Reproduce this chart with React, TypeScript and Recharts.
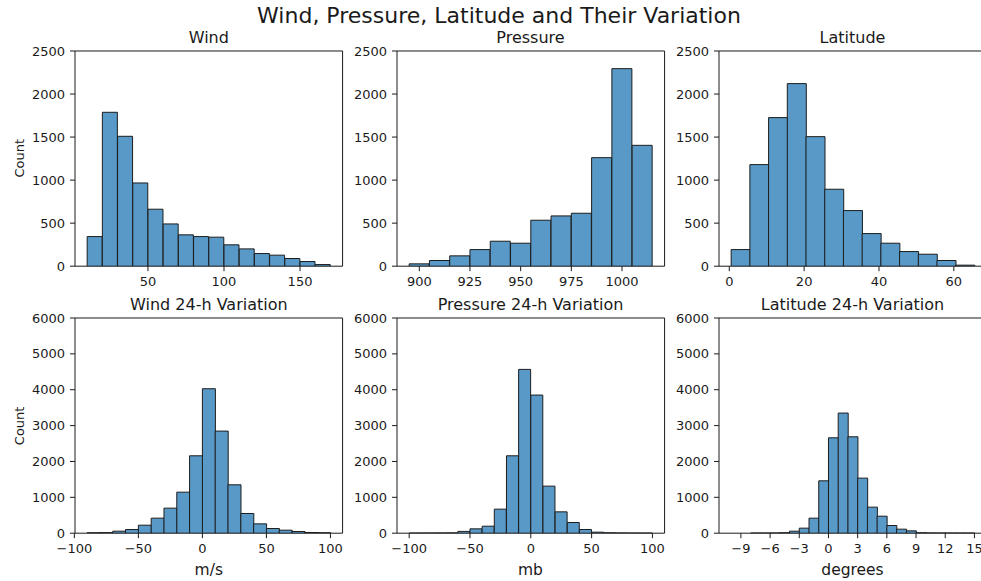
import React from "react";
import { BarChart, Bar, XAxis, YAxis, ReferenceArea } from "recharts";

// Counts per bin, bins are equal-width starting at the given edge
const windStart = 10;
const windStep = 10;
const windCounts = [344, 1788, 1509, 967, 662, 491, 364, 344, 337, 248, 201, 147, 128, 89, 54, 19];

const pressureStart = 895;
const pressureStep = 10;
const pressureCounts = [27, 66, 120, 193, 290, 267, 534, 584, 615, 1261, 2295, 1404];

const latitudeStart = 0.5;
const latitudeStep = 5;
const latitudeCounts = [193, 1180, 1726, 2121, 1505, 894, 646, 379, 267, 170, 139, 66, 12];

const windVarStart = -90;
const windVarStep = 10;
const windVarCounts = [12, 15, 56, 102, 223, 419, 698, 1144, 2158, 4028, 2847, 1349, 549, 260, 130, 84, 47, 19, 12];

const pressureVarStart = -100;
const pressureVarStep = 10;
const pressureVarCounts = [1, 3, 5, 8, 50, 121, 195, 670, 2158, 4567, 3851, 1312, 595, 298, 102, 28, 10, 5, 2, 1];

const latitudeVarStart = -10;
const latitudeVarStep = 1;
const latitudeVarCounts = [0, 0, 1, 2, 4, 12, 56, 140, 419, 1460, 2660, 3349, 2688, 1535, 726, 474, 214, 112, 65, 12, 5, 3, 2, 1, 1];

const windTicks = [50, 100, 150];
const pressureTicks = [900, 925, 950, 975, 1000];
const latitudeTicks = [0, 20, 40, 60];
const varTicks = [-100, -50, 0, 50, 100];
const latitudeVarTicks = [-9, -6, -3, 0, 3, 6, 9, 12, 15];
const countTicksTop = [0, 500, 1000, 1500, 2000, 2500];
const countTicksBottom = [0, 1000, 2000, 3000, 4000, 5000, 6000];

const FILL = "#5899c7";
const EDGE = "#1c1c1c";
const INK = "#1a1a1a";

const COL_LEFT = [75, 396.7, 718.7];
const ROW_TOP = [50.7, 318.3];
const PLOT_W = 267.6;
const PLOT_H = 215.2;

const toBins = (start: number, step: number, counts: number[]) =>
  counts.map((count, i) => ({ x: start + step * (i + 0.5), count }));

const fmt = (v: number) => String(v).replace("-", "\u2212");

interface Panel {
  title: string;
  col: number;
  row: number;
  data: { x: number; count: number }[];
  xDomain: [number, number];
  xTicks: number[];
  yMax: number;
  yTicks: number[];
  xLabel?: string;
}

const panels: Panel[] = [
  { title: "Wind", col: 0, row: 0, data: toBins(windStart, windStep, windCounts), xDomain: [2, 178], xTicks: windTicks, yMax: 2500, yTicks: countTicksTop },
  { title: "Pressure", col: 1, row: 0, data: toBins(pressureStart, pressureStep, pressureCounts), xDomain: [889, 1021], xTicks: pressureTicks, yMax: 2500, yTicks: countTicksTop },
  { title: "Latitude", col: 2, row: 0, data: toBins(latitudeStart, latitudeStep, latitudeCounts), xDomain: [-2.75, 68.75], xTicks: latitudeTicks, yMax: 2500, yTicks: countTicksTop },
  { title: "Wind 24-h Variation", col: 0, row: 1, data: toBins(windVarStart, windVarStep, windVarCounts), xDomain: [-99.5, 109.5], xTicks: varTicks, yMax: 6000, yTicks: countTicksBottom, xLabel: "m/s" },
  { title: "Pressure 24-h Variation", col: 1, row: 1, data: toBins(pressureVarStart, pressureVarStep, pressureVarCounts), xDomain: [-110, 110], xTicks: varTicks, yMax: 6000, yTicks: countTicksBottom, xLabel: "mb" },
  { title: "Latitude 24-h Variation", col: 2, row: 1, data: toBins(latitudeVarStart, latitudeVarStep, latitudeVarCounts), xDomain: [-11.25, 16.25], xTicks: latitudeVarTicks, yMax: 6000, yTicks: countTicksBottom, xLabel: "degrees" },
];

const TOP_PAD = 20;
const RIGHT_PAD = 15;
const Y_AXIS_W = 75;
const X_AXIS_H = 40;

function Histogram({ p }: { p: Panel }) {
  const left = COL_LEFT[p.col] - Y_AXIS_W;
  const top = ROW_TOP[p.row] - TOP_PAD;
  const tickStyle = { fontSize: 13, fill: INK };
  return (
    <div style={{ position: "absolute", left, top }}>
      <BarChart
        width={Y_AXIS_W + PLOT_W + RIGHT_PAD}
        height={TOP_PAD + PLOT_H + X_AXIS_H}
        data={p.data}
        margin={{ top: TOP_PAD, right: RIGHT_PAD, left: 0, bottom: 0 }}
        barCategoryGap={0}
        barGap={0}
      >
        <XAxis
          dataKey="x"
          type="number"
          domain={p.xDomain}
          ticks={p.xTicks}
          allowDataOverflow
          height={X_AXIS_H}
          axisLine={false}
          tickLine={{ stroke: INK }}
          tickSize={5}
          tickMargin={6}
          tick={tickStyle}
          tickFormatter={fmt}
          interval={0}
        />
        <YAxis
          type="number"
          domain={[0, p.yMax]}
          ticks={p.yTicks}
          allowDataOverflow
          width={Y_AXIS_W}
          axisLine={false}
          tickLine={{ stroke: INK }}
          tickSize={5}
          tickMargin={5}
          tick={tickStyle}
          interval={0}
        />
        <Bar dataKey="count" fill={FILL} stroke={EDGE} strokeWidth={1} isAnimationActive={false} />
        <ReferenceArea
          x1={p.xDomain[0]}
          x2={p.xDomain[1]}
          y1={0}
          y2={p.yMax}
          fill="none"
          fillOpacity={0}
          stroke={INK}
          strokeWidth={1}
          ifOverflow="visible"
        />
      </BarChart>
    </div>
  );
}

export default function App() {
  return (
    <div
      style={{
        position: "absolute",
        left: 0,
        top: 0,
        width: 981,
        height: 581,
        overflow: "hidden",
        background: "#fff",
        fontFamily: "'DejaVu Sans', sans-serif",
      }}
    >
      {panels.map((p) => (
        <Histogram key={p.title} p={p} />
      ))}
      <svg width={981} height={581} style={{ position: "absolute", left: 0, top: 0, pointerEvents: "none" }}>
        <text x={499} y={22.5} textAnchor="middle" fontSize={22} fill={INK}>
          Wind, Pressure, Latitude and Their Variation
        </text>
        {panels.map((p) => (
          <text
            key={p.title}
            x={COL_LEFT[p.col] + PLOT_W / 2}
            y={ROW_TOP[p.row] - 8}
            textAnchor="middle"
            fontSize={16}
            fill={INK}
          >
            {p.title}
          </text>
        ))}
        {panels
          .filter((p) => p.xLabel)
          .map((p) => (
            <text key={p.xLabel} x={COL_LEFT[p.col] + PLOT_W / 2} y={574.5} textAnchor="middle" fontSize={15.5} fill={INK}>
              {p.xLabel}
            </text>
          ))}
        {ROW_TOP.map((t) => (
          <text
            key={t}
            transform={`translate(23.5, ${t + PLOT_H / 2}) rotate(-90)`}
            textAnchor="middle"
            fontSize={13}
            fill={INK}
          >
            Count
          </text>
        ))}
      </svg>
    </div>
  );
}
